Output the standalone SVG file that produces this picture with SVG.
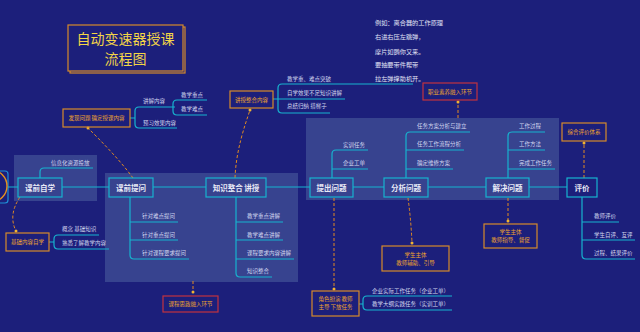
<svg xmlns="http://www.w3.org/2000/svg" width="640" height="332" viewBox="0 0 640 332">
<defs>
<style>
.bg{fill:#1c1f7b}
.panel{fill:#37438f}
.node rect{fill:none;stroke:#17b3cf;stroke-width:1.2}
.nt{font-family:"Noto Sans CJK SC","Noto Sans",sans-serif;font-size:7.5px;font-weight:bold;fill:#e8eaf6;text-anchor:middle}
.it{font-family:"Noto Sans CJK SC","Noto Sans",sans-serif;font-size:5.5px;fill:#d3d7ef}
.ln{stroke:#17b3cf;stroke-width:1.2;fill:none}
.ob rect{fill:none;stroke:#d68a2a;stroke-width:1.2}
.ob.red rect{stroke:#c2323f}
.ot{font-family:"Noto Sans CJK SC","Noto Sans",sans-serif;font-size:5.5px;fill:#f0a52e;text-anchor:middle}
.dash{stroke:#e08a22;stroke-width:1;stroke-dasharray:3 2;fill:none}
.title{font-family:"Noto Sans CJK SC","Noto Sans",sans-serif;font-size:14px;fill:#f3d547;text-anchor:middle}
.ex{font-family:"Noto Sans CJK SC","Noto Sans",sans-serif;font-size:6.2px;fill:#e0e3f5}
</style>
<marker id="dot" viewBox="0 0 4 4" refX="2" refY="2" markerWidth="4" markerHeight="4" markerUnits="userSpaceOnUse">
<circle cx="2" cy="2" r="1.5" fill="#f2b431"/>
</marker>
</defs>
<rect class="bg" x="0" y="0" width="640" height="332"/>
<rect class="panel" x="14" y="155" width="83" height="46"/>
<rect class="panel" x="105" y="173" width="193" height="109"/>
<rect class="panel" x="306" y="118" width="253" height="82"/>

<g id="title">
<rect x="70" y="27" width="115" height="46" fill="none" stroke="#d68a2a" stroke-width="1.2"/>
<rect x="68" y="25" width="115" height="46" fill="#1c1f7b" stroke="#d68a2a" stroke-width="1.2"/>
<text class="title" x="125.5" y="44">自动变速器授课</text>
<text class="title" x="125.5" y="64">流程图</text>
</g>

<g id="start">
<rect x="-30" y="171" width="38" height="32" rx="3" fill="none" stroke="#1f8fd6" stroke-width="1.2"/>
<circle cx="-9" cy="186" r="16" fill="none" stroke="#e8921f" stroke-width="1.4"/>
</g>

<g id="connectors">
<path class="ln" d="M8,187H18M62,187H109M153,187H206M266,187H310M353,187H384M428,187H486M529,187H567"/>
<path class="ln" d="M40,178V172Q40,168 44,168H93"/>
<path class="ln" d="M130,197V255Q130,259 134,259H189M130,222H178M130,240H178"/>
<path class="ln" d="M236,197V273Q236,277 240,277H272M236,222H283M236,240H283M236,259H294"/>
<path class="ln" d="M332,178V154Q332,150 336,150H368M332,169H368"/>
<path class="ln" d="M406,178V136Q406,132 410,132H470M406,150H464M406,169H453"/>
<path class="ln" d="M508,178V136Q508,132 512,132H545M508,150H545M508,169H555"/>
<path class="ln" d="M582,197V255Q582,259 586,259H635M582,222H619M582,240H635"/>
<path class="ln" d="M130,118H135M175,107H139Q135,107 135,111V124Q135,128 139,128H177"/>
<path class="ln" d="M207,100H177Q173,100 173,104V111Q173,115 177,115H207"/>
<path class="ln" d="M273,99H345M413,84H282Q278,84 278,88V109Q278,113 282,113H330"/>
<path class="ln" d="M49,242H54M99,235H58Q54,235 54,239V245Q54,249 58,249H109"/>
<path class="ln" d="M359,304H363M452,296H367Q363,296 363,300V306Q363,310 367,310H452"/>
<path class="dash" d="M133,178C120,160 100,140 88,128" marker-end="url(#dot)"/>
<path class="dash" d="M235,178C236,150 245,125 250,110" marker-end="url(#dot)"/>
<path class="dash" d="M20,197Q8,215 16,231" marker-end="url(#dot)"/>
<path class="dash" d="M193,281V292" marker-end="url(#dot)"/>
<path class="dash" d="M334,198V289" marker-end="url(#dot)"/>
<path class="dash" d="M408,198Q411,220 412,243" marker-end="url(#dot)"/>
<path class="dash" d="M508,198V221" marker-end="url(#dot)"/>
<path class="dash" d="M584,178V143" marker-end="url(#dot)"/>
<path class="dash" d="M458,118V102" marker-end="url(#dot)"/>
</g>

<g id="n1" class="node"><rect x="18" y="178" width="44" height="19"/><text class="nt" x="40" y="190.5">课前自学</text></g>
<g id="n2" class="node"><rect x="109" y="178" width="44" height="19"/><text class="nt" x="131" y="190.5">课前提问</text></g>
<g id="n3" class="node"><rect x="206" y="178" width="60" height="19"/><text class="nt" x="236" y="190.5">知识整合 讲授</text></g>
<g id="n4" class="node"><rect x="310" y="178" width="43" height="19"/><text class="nt" x="331.5" y="190.5">提出问题</text></g>
<g id="n5" class="node"><rect x="384" y="178" width="44" height="19"/><text class="nt" x="406" y="190.5">分析问题</text></g>
<g id="n6" class="node"><rect x="486" y="178" width="43" height="19"/><text class="nt" x="507.5" y="190.5">解决问题</text></g>
<g id="n7" class="node"><rect x="567" y="178" width="30" height="19"/><text class="nt" x="582" y="190.5">评价</text></g>

<g id="items">
<text class="it" x="51" y="165">信息化资源投放</text>
<text class="it" x="142" y="218">针对难点提问</text>
<text class="it" x="142" y="237">针对重点提问</text>
<text class="it" x="142" y="255">针对课程要求提问</text>
<text class="it" x="247" y="218">教学重点讲解</text>
<text class="it" x="247" y="237">教学难点讲解</text>
<text class="it" x="247" y="255">课程要求内容讲解</text>
<text class="it" x="247" y="273">知识整合</text>
<text class="it" x="343" y="147">实训任务</text>
<text class="it" x="343" y="165">企业工单</text>
<text class="it" x="417" y="128">任务方案分析与建立</text>
<text class="it" x="417" y="146">任务工作流程分析</text>
<text class="it" x="417" y="165">确定维修方案</text>
<text class="it" x="519" y="128">工作过程</text>
<text class="it" x="519" y="146">工作方法</text>
<text class="it" x="519" y="165">完成工作任务</text>
<text class="it" x="594" y="218">教师评价</text>
<text class="it" x="594" y="237">学生自评、互评</text>
<text class="it" x="594" y="255">过程、结果评价</text>
<text class="it" x="143" y="103">讲解内容</text>
<text class="it" x="143" y="125">预习效果内容</text>
<text class="it" x="181" y="97">教学重点</text>
<text class="it" x="181" y="111">教学难点</text>
<text class="it" x="287" y="81">教学重、难点突破</text>
<text class="it" x="287" y="95">自学效果不足知识讲解</text>
<text class="it" x="287" y="108">总结归纳 搭梯子</text>
<text class="it" x="62" y="231">概念 基础知识</text>
<text class="it" x="62" y="245">熟悉了解教学内容</text>
<text class="it" x="372" y="293">企业实际工作任务（企业工单）</text>
<text class="it" x="372" y="306">教学大纲实践任务（实训工单）</text>
</g>

<g id="example">
<text class="ex" x="375" y="25">例如：离合器的工作原理</text>
<text class="ex" x="375" y="39">右进右压左跳弹，</text>
<text class="ex" x="375" y="54">摩片如鹦你又来。</text>
<text class="ex" x="375" y="67">要抽要带件帮带</text>
<text class="ex" x="375" y="81">拉左弹撑助机开。</text>
</g>

<g id="b1" class="ob"><rect x="63" y="109" width="67" height="18"/><text class="ot" x="96.5" y="120">发现问题 确定授课内容</text></g>
<g id="b2" class="ob"><rect x="230" y="91" width="43" height="17"/><text class="ot" x="251.5" y="101.5">讲授整合内容</text></g>
<g id="b3" class="ob red"><rect x="423" y="83" width="54" height="17"/><text class="ot" x="450" y="93.5">职业素养融入环节</text></g>
<g id="b4" class="ob"><rect x="562" y="123" width="44" height="18"/><text class="ot" x="584" y="134">综合评价体系</text></g>
<g id="b5" class="ob"><rect x="6" y="233" width="43" height="18"/><text class="ot" x="27.5" y="244">基础内容自学</text></g>
<g id="b6" class="ob red"><rect x="163" y="296" width="55" height="16"/><text class="ot" x="190.5" y="306">课程思政融入环节</text></g>
<g id="b7" class="ob"><rect x="312" y="291" width="47" height="25"/><text class="ot" x="335.5" y="301">角色扮演 教师</text><text class="ot" x="335.5" y="309">主导 下放任务</text></g>
<g id="b8" class="ob"><rect x="382" y="246" width="67" height="25"/><text class="ot" x="415.5" y="256.5">学生主体</text><text class="ot" x="415.5" y="264.5">教师辅助、引导</text></g>
<g id="b9" class="ob"><rect x="484" y="224" width="53" height="24"/><text class="ot" x="510.5" y="234">学生主体</text><text class="ot" x="510.5" y="242">教师指导、督促</text></g>
</svg>
